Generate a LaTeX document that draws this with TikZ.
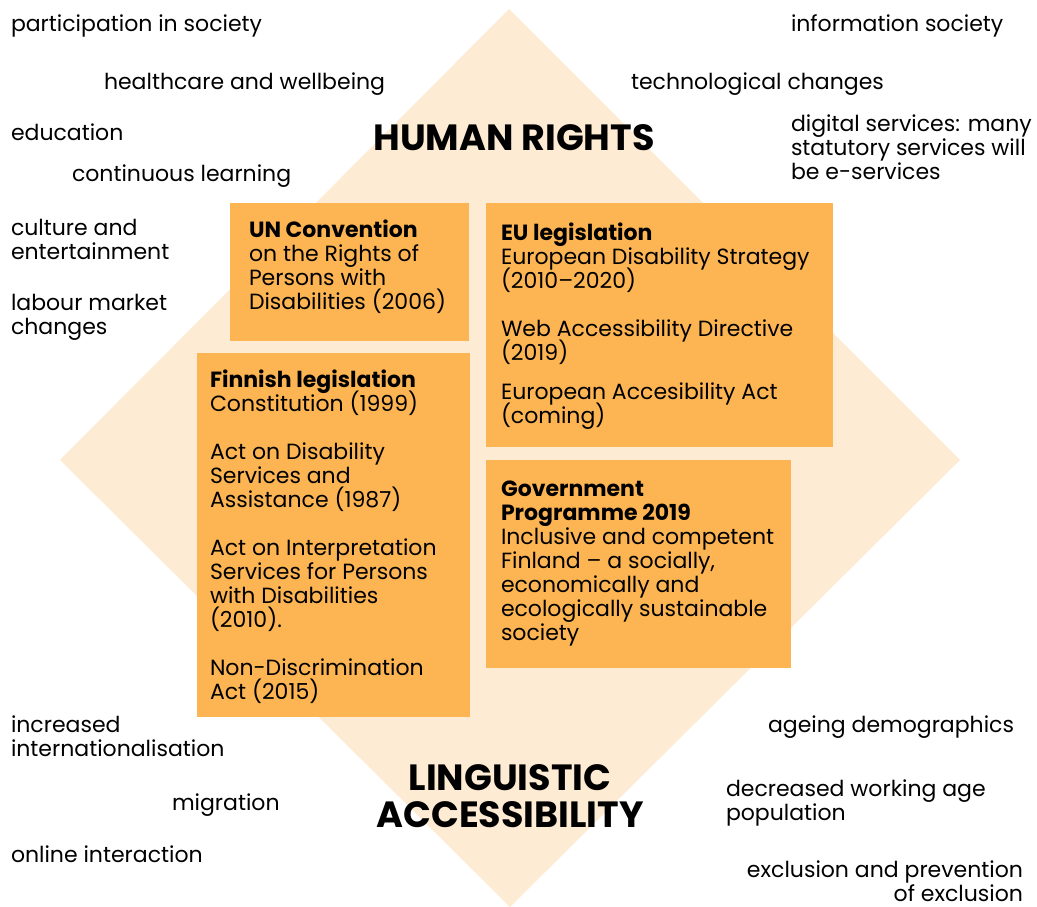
\documentclass[tikz,border=0pt]{standalone}
\usepackage{fontspec}
\setmainfont{Poppins}
\definecolor{diamondfill}{RGB}{254,235,212}
\definecolor{boxfill}{RGB}{253,181,83}
\newcommand{\tightlines}{\setlength{\lineskiplimit}{-20pt}}
\tikzset{
    every node/.style={inner sep=0pt, outer sep=0pt, align=left, font=\fontsize{22}{24}\selectfont\tightlines},
    topic/.style={anchor=base west},
    rtopic/.style={anchor=base east, align=right},
    heading/.style={anchor=base, align=center, font=\fontsize{36.5}{37}\selectfont\bfseries\tightlines},
    legal/.style={anchor=base west}
}
\newcommand{\lawtitle}[1]{{\bfseries #1}}

\begin{document}
\begin{tikzpicture}[x=1pt, y=-1pt]
        \useasboundingbox (0,0) rectangle (1037,907);
        % background diamond
        \fill[diamondfill] (509,9) -- (960,460) -- (510,907) -- (60,460) -- cycle;
        % legislation boxes
        \fill[boxfill] (230,203) rectangle (469,341);
        \fill[boxfill] (486,203) rectangle (833,447);
        \fill[boxfill] (197,353) rectangle (470,717);
        \fill[boxfill] (486,460) rectangle (791,668);
        % multi-line nodes sit on the baseline of their last line
        \node (hr) [heading] at (514,150) {HUMAN RIGHTS};
        \node (la) [heading] at (510,827) {LINGUISTIC\\ACCESSIBILITY};
        \node (un) [legal] at (249,309) {\lawtitle{UN Convention}\\on the Rights of\\Persons with\\Disabilities (2006)};
        \node (eu) [legal] at (501,423) {\lawtitle{EU legislation}\\European Disability Strategy\\(2010--2020)\\[24pt]Web Accessibility Directive\\(2019)\\[15pt]European Accesibility Act\\(coming)};
        \node (fi) [legal] at (210,699) {\lawtitle{Finnish legislation}\\Constitution (1999)\\[24pt]Act on Disability\\Services and\\Assistance (1987)\\[24pt]Act on Interpretation\\Services for Persons\\with Disabilities\\(2010).\\[24pt]Non-Discrimination\\Act (2015)};
        \node (gp) [legal] at (501,640) {\lawtitle{Government}\\\lawtitle{Programme 2019}\\Inclusive and competent\\Finland -- a socially,\\economically and\\ecologically sustainable\\society};
        \node (t1) [topic] at (11,32) {participation in society};
        \node (t2) [topic] at (104,90) {healthcare and wellbeing};
        \node (t3) [topic] at (11,140) {education};
        \node (t4) [topic] at (72,181) {continuous learning};
        \node (t5) [topic] at (11,259) {culture and\\entertainment};
        \node (t6) [topic] at (11,334) {labour market\\changes};
        \node (t7) [topic] at (791,32) {information society};
        \node (t8) [topic] at (631,90) {technological changes};
        \node (t9) [topic] at (791,179) {digital services: many\\statutory services will\\be e-services};
        \node (t10) [topic] at (11,756) {increased\\internationalisation};
        \node (t11) [topic] at (172,810) {migration};
        \node (t12) [topic] at (11,862) {online interaction};
        \node (t13) [topic] at (768,732) {ageing demographics};
        \node (t14) [topic] at (726,820) {decreased working age\\population};
        \node (t15) [rtopic] at (1023,901) {exclusion and prevention\\of exclusion};
\end{tikzpicture}
\end{document}
